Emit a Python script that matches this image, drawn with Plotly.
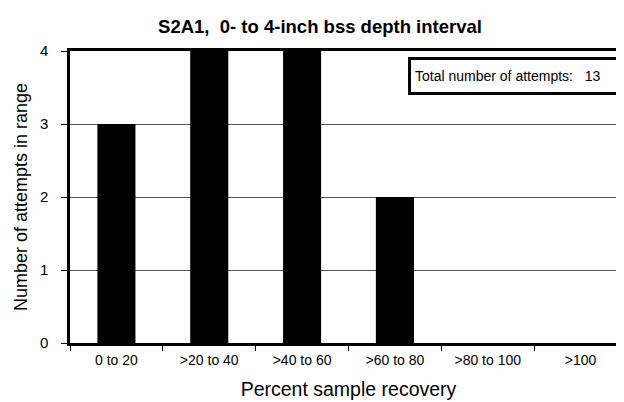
import plotly.graph_objects as go

categories = ["0 to 20", ">20 to 40", ">40 to 60", ">60 to 80", ">80 to 100", ">100"]
counts = [3, 4, 4, 2, 0, 0]
y_ticks = [0, 1, 2, 3, 4]
total_attempts = 13

FONT = "Liberation Sans, Arial, sans-serif"

fig = go.Figure(go.Bar(
    x=categories, y=counts,
    marker=dict(color="black", line=dict(width=0)),
))

fig.update_layout(
    width=624, height=402,
    margin=dict(l=62, r=2, t=43, b=67),
    paper_bgcolor="white", plot_bgcolor="white",
    bargap=0.59,
    showlegend=False,
    font=dict(family=FONT, color="black"),
    title=dict(text="<b>S2A1,&nbsp; 0- to 4-inch bss depth interval</b>",
               x=0.5, xanchor="center", y=0.953, yanchor="middle",
               font=dict(size=18.5, family=FONT)),
)

fig.update_xaxes(
    type="category",
    tickson="boundaries", ticks="outside", ticklen=5, tickcolor="black",
    ticklabelstandoff=2,
    showline=True, linecolor="black", linewidth=2.5, mirror=True,
    showgrid=False,
    tickfont=dict(size=14),
    title=dict(text="Percent sample recovery", font=dict(size=19.5), standoff=16),
)

fig.update_yaxes(
    range=[0, 4], tickvals=y_ticks,
    ticks="outside", ticklen=6, tickcolor="black",
    ticklabelstandoff=10,
    showline=True, linecolor="black", linewidth=2.5, mirror=True,
    showgrid=True, gridcolor="#555555", gridwidth=1,
    zeroline=False,
    tickfont=dict(size=15),
    title=dict(text="Number of attempts in range", font=dict(size=18), standoff=8),
)

fig.add_annotation(
    xref="paper", yref="paper", x=0.993, y=0.98,
    xanchor="right", yanchor="top",
    text=f"Total number of attempts:&nbsp;&nbsp; {total_attempts}",
    showarrow=False, align="left",
    width=201, height=24, borderpad=4,
    bordercolor="black", borderwidth=3, bgcolor="white",
    font=dict(size=14, family=FONT),
)

fig.write_html("out.html")
